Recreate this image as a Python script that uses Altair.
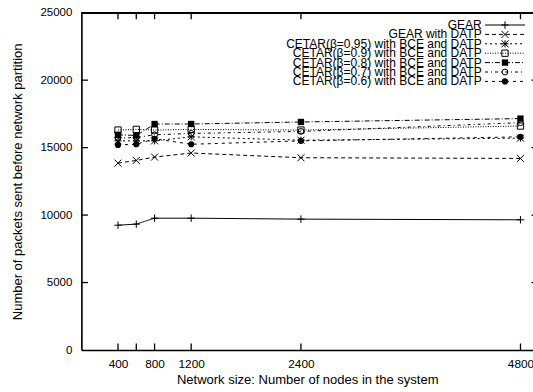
import altair as alt
import pandas as pd

# Network sizes (x) and packets sent before partition (y) per protocol
nodes = [400, 600, 800, 1200, 2400, 4800]
gear = [9250, 9330, 9770, 9770, 9700, 9650]
gear_datp = [13850, 14050, 14300, 14600, 14250, 14200]
cetar_095 = [15500, 15500, 15500, 15800, 15550, 15700]
cetar_090 = [16300, 16350, 16300, 16350, 16300, 16600]
cetar_080 = [15950, 15900, 16750, 16750, 16900, 17150]
cetar_070 = [15700, 15750, 15950, 16050, 16200, 16850]
cetar_060 = [15200, 15250, 15650, 15250, 15500, 15800]

series_names = [
    "GEAR",
    "GEAR with DATP",
    "CETAR(β=0.95) with BCE and DATP",
    "CETAR(β=0.9) with BCE and DATP",
    "CETAR(β=0.8) with BCE and DATP",
    "CETAR(β=0.7) with BCE and DATP",
    "CETAR(β=0.6) with BCE and DATP",
]
series_values = [gear, gear_datp, cetar_095, cetar_090, cetar_080, cetar_070, cetar_060]

x_tick_values = [400, 600, 800, 1200, 2400, 4800]
x_label_values = [400, 800, 1200, 2400, 4800]
y_tick_values = [0, 5000, 10000, 15000, 20000, 25000]

rows = []
for name, vals in zip(series_names, series_values):
    for n, v in zip(nodes, vals):
        rows.append({"series": name, "nodes": n, "packets": v})
df = pd.DataFrame(rows)

# gnuplot-like point glyphs
PLUS = "M-1,0L1,0M0,-1L0,1"
CROSS = "M-1,-1L1,1M-1,1L1,-1"
STAR = PLUS + CROSS

# (dash pattern, shape, filled, size)
styles = [
    ([1, 0], PLUS, False, 56),
    ([4, 3], CROSS, False, 49),
    ([2, 3], STAR, False, 49),
    ([1, 1.5], "square", False, 40),
    ([5, 2, 1, 2], "square", True, 40),
    ([3, 3, 1, 3], "circle", False, 34),
    ([3, 4], "circle", True, 38),
]

W, H = 451.6, 337.3
FONT = "Liberation Sans"
X_MAX = 4937

x_scale = alt.Scale(domain=[0, X_MAX], nice=False, zero=False)
y_scale = alt.Scale(domain=[0, 25000], nice=False)

x_axis = alt.Axis(
    values=x_label_values, format="d", ticks=False, grid=False,
    domain=True, domainColor="black", domainWidth=1.6,
    labelFont=FONT, labelFontSize=11.8, labelColor="black", labelPadding=8,
    labelFlush=False, labelOverlap=False,
    title="Network size: Number of nodes in the system",
    titleFont=FONT, titleFontSize=13, titleFontWeight="normal",
    titleColor="black", titlePadding=4,
)
y_axis = alt.Axis(
    values=y_tick_values, format="d", ticks=False, grid=False,
    domain=True, domainColor="black", domainWidth=1.6,
    labelFont=FONT, labelFontSize=11.5, labelColor="black", labelPadding=9.5,
    labelFlush=False,
    title="Number of packets sent before network partition",
    titleFont=FONT, titleFontSize=13, titleFontWeight="normal",
    titleColor="black", titlePadding=15,
)

xs = alt.X("nodes:Q", scale=x_scale, axis=x_axis)
ys = alt.Y("packets:Q", scale=y_scale, axis=y_axis)

base = alt.Chart(df)
layers = []

# Series lines and point glyphs
for name, (dash, shape, filled, size) in zip(series_names, styles):
    sub = base.transform_filter(alt.datum.series == name)
    layers.append(sub.mark_line(color="black", strokeWidth=1, strokeDash=dash).encode(
        x=xs, y=ys))
    layers.append(sub.mark_point(shape=shape, size=size, filled=filled, color="black",
                                 strokeWidth=1, opacity=1).encode(x=xs, y=ys))

# Border ticks pointing into the plot, and the top border
tick_x_df = pd.DataFrame({"nodes": x_tick_values})
tick_y_df = pd.DataFrame({"packets": y_tick_values[1:-1]})
layers.append(alt.Chart(tick_x_df).mark_rule(color="black", strokeWidth=1.3).encode(
    x=xs, y=alt.value(H), y2=alt.value(H - 6.5)))
layers.append(alt.Chart(tick_x_df).mark_rule(color="black", strokeWidth=1.3).encode(
    x=xs, y=alt.value(0), y2=alt.value(6.5)))
layers.append(alt.Chart(tick_y_df).mark_rule(color="black", strokeWidth=1.3).encode(
    y=ys, x=alt.value(0), x2=alt.value(6.5)))
layers.append(alt.Chart(tick_y_df).mark_rule(color="black", strokeWidth=1.3).encode(
    y=ys, x=alt.value(W - 1.5), x2=alt.value(W)))
layers.append(alt.Chart(tick_x_df).mark_rule(color="black", strokeWidth=1.6).encode(
    x=alt.value(0), x2=alt.value(W), y=alt.value(0)))

# Key, upper right: label, line sample and glyph per series
LEG_TEXT_X = 400.3
LEG_LINE_X0, LEG_LINE_X1 = 403.6, 443.6
LEG_Y0, LEG_DY = 12.3, 9.4
for i, (name, (dash, shape, filled, size)) in enumerate(zip(series_names, styles)):
    ly = LEG_Y0 + LEG_DY * i
    leg = alt.Chart(pd.DataFrame({"series": [name]}))
    layers.append(leg.mark_text(align="right", baseline="middle", font=FONT,
                                fontSize=12, color="black").encode(
        text="series:N", x=alt.value(LEG_TEXT_X), y=alt.value(ly)))
    layers.append(leg.mark_rule(color="black", strokeWidth=1, strokeDash=dash).encode(
        x=alt.value(LEG_LINE_X0), x2=alt.value(LEG_LINE_X1), y=alt.value(ly)))
    layers.append(leg.mark_point(shape=shape, size=size, filled=filled, color="black",
                                 strokeWidth=1, opacity=1).encode(
        x=alt.value((LEG_LINE_X0 + LEG_LINE_X1) / 2), y=alt.value(ly)))

chart = alt.layer(*layers).properties(
    width=W, height=H,
    autosize=alt.AutoSizeParams(type="none"),
    padding={"left": 81.4, "top": 12.7, "right": 0, "bottom": 42},
).configure_view(stroke=None).configure(background="white")

chart.save("out.html", embed_options={"renderer": "svg", "actions": False})
